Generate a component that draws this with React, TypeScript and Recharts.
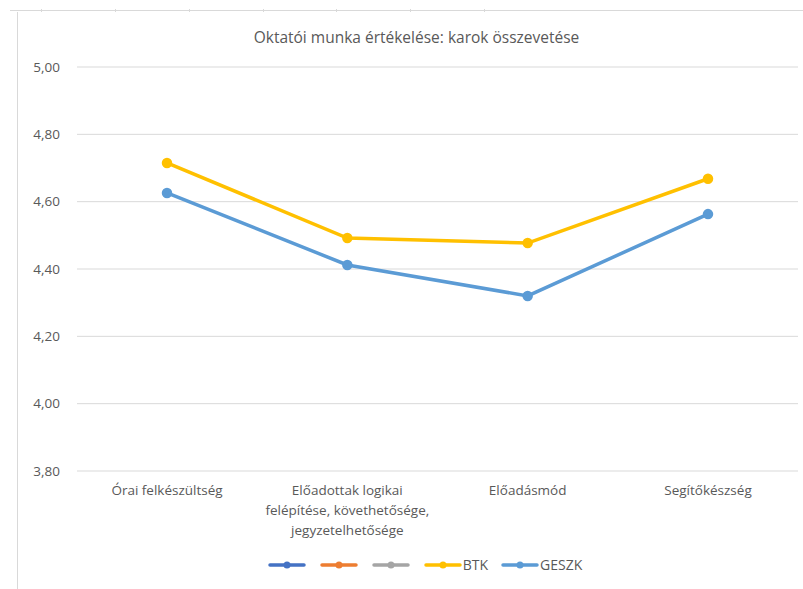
import { CartesianGrid, Legend, Line, LineChart, XAxis, YAxis } from "recharts";

const categories = [
  "Órai felkészültség",
  "Előadottak logikai\nfelépítése, követhetősége,\njegyzetelhetősége",
  "Előadásmód",
  "Segítőkészség",
];
const btk = [4.715, 4.492, 4.477, 4.668];
const geszk = [4.626, 4.412, 4.32, 4.563];
const yTicks = [3.8, 4.0, 4.2, 4.4, 4.6, 4.8, 5.0];

// Excel-style legend: three empty series + BTK, GESZK
const legendItems = [
  { name: "", color: "#4472C4" },
  { name: "", color: "#ED7D31" },
  { name: "", color: "#A5A5A5" },
  { name: "BTK", color: "#FFC000" },
  { name: "GESZK", color: "#5B9BD5" },
];

const data = categories.map((c, i) => ({ cat: c, btk: btk[i], geszk: geszk[i] }));

const FONT = "'Open Sans', sans-serif";
const TEXT = "#595959";

function CatTick({ x, y, payload }: any) {
  const lines = String(payload.value).split("\n");
  return (
    <text x={x} y={y} textAnchor="middle" fill={TEXT} fontSize={13.5} fontFamily={FONT}>
      {lines.map((l, i) => (
        <tspan key={i} x={x} dy={i === 0 ? 16 : 20}>
          {l}
        </tspan>
      ))}
    </text>
  );
}

function LegendContent() {
  return (
    <div
      style={{
        display: "flex",
        justifyContent: "center",
        gap: 12,
        paddingLeft: 34,
        fontFamily: FONT,
        fontSize: 14,
        color: TEXT,
      }}
    >
      {legendItems.map((it, i) => (
        <div key={i} style={{ display: "flex", alignItems: "center" }}>
          <svg width={40} height={12}>
            <line x1={3} y1={6} x2={37} y2={6} stroke={it.color} strokeWidth={3.5} strokeLinecap="round" />
            <circle cx={20} cy={6} r={3.5} fill={it.color} />
          </svg>
          {it.name && <span>{it.name}</span>}
        </div>
      ))}
    </div>
  );
}

export default function App() {
  return (
    <div style={{ position: "absolute", left: 0, top: 0, width: 803, height: 589, background: "#fff" }}>
      <svg width={803} height={589} style={{ position: "absolute", left: 0, top: 0 }}>
        <line x1={10} y1={10.5} x2={803} y2={10.5} stroke="#d9d9d9" />
        <line x1={17.5} y1={12} x2={17.5} y2={589} stroke="#d9d9d9" />
        {[41, 115, 189, 263, 336, 410, 484].map((tx) => (
          <line key={tx} x1={tx + 0.5} y1={9} x2={tx + 0.5} y2={12} stroke="#d9d9d9" />
        ))}
      </svg>
      <div
        style={{
          position: "absolute",
          top: 26,
          left: 15,
          width: 803,
          textAlign: "center",
          fontFamily: FONT,
          fontSize: 15.5,
          color: TEXT,
        }}
      >
        Oktatói munka értékelése: karok összevetése
      </div>
      <div style={{ position: "absolute", left: 0, top: 0 }}>
        <LineChart width={803} height={589} data={data} margin={{ top: 67, right: 5, left: 17, bottom: 14 }}>
          <CartesianGrid vertical={false} stroke="#d9d9d9" />
          <XAxis
            dataKey="cat"
            axisLine={false}
            tickLine={false}
            height={84}
            interval={0}
            padding={{ left: 90, right: 90 }}
            tick={<CatTick />}
          />
          <YAxis
            domain={[3.8, 5.0]}
            ticks={yTicks}
            axisLine={false}
            tickLine={false}
            width={60}
            tickMargin={11}
            tick={{ fill: TEXT, fontSize: 13.5, fontFamily: FONT }}
            tickFormatter={(v: number) => v.toFixed(2).replace(".", ",")}
          />
          <Legend verticalAlign="bottom" height={20} content={<LegendContent />} />
          <Line
            dataKey="btk"
            name="BTK"
            stroke="#FFC000"
            strokeWidth={3.5}
            dot={{ r: 3.5, fill: "#FFC000", stroke: "#FFC000" }}
            isAnimationActive={false}
          />
          <Line
            dataKey="geszk"
            name="GESZK"
            stroke="#5B9BD5"
            strokeWidth={3.5}
            dot={{ r: 3.5, fill: "#5B9BD5", stroke: "#5B9BD5" }}
            isAnimationActive={false}
          />
        </LineChart>
      </div>
    </div>
  );
}
